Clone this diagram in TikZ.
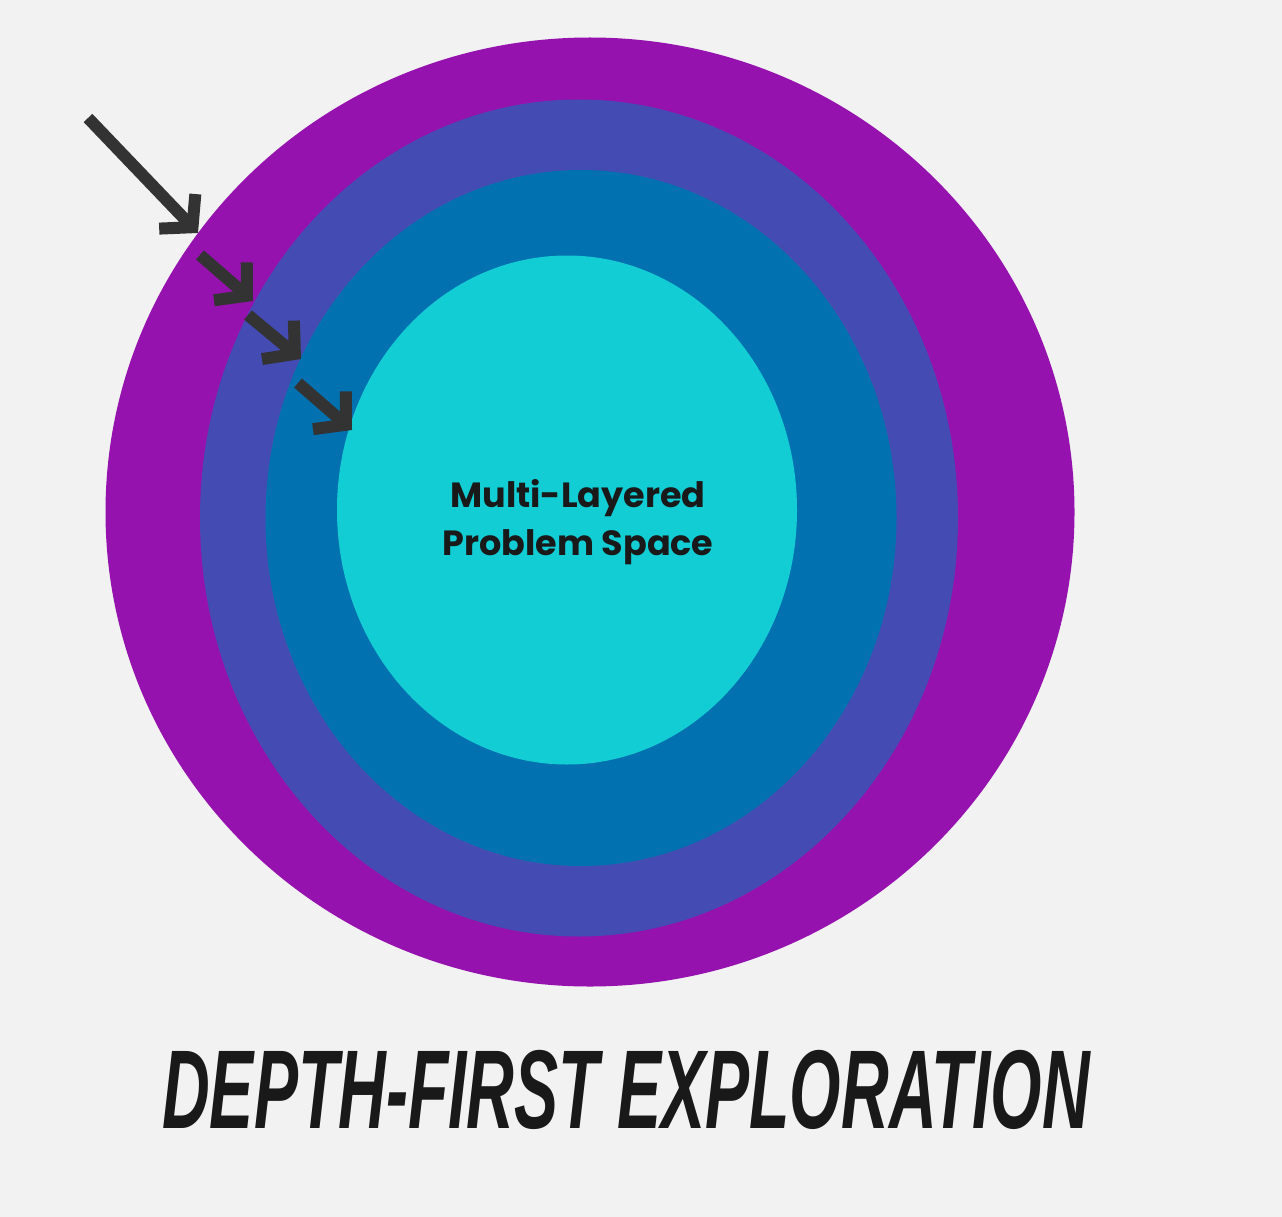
\documentclass[tikz,border=0pt]{standalone}
\usepackage{fontspec}
\usepackage{tikz}
\usetikzlibrary{shapes.geometric, arrows.meta, positioning}
\newfontfamily\layerfont{Poppins}
\newfontfamily\titlefont{Liberation Sans}
\definecolor{bgray}{RGB}{242,242,242}
\definecolor{outerpurple}{RGB}{150,18,174}
\definecolor{midindigo}{RGB}{68,76,179}
\definecolor{innerblue}{RGB}{1,114,175}
\definecolor{corecyan}{RGB}{19,205,213}
\definecolor{arrowgray}{RGB}{51,51,51}
\tikzstyle{layer}=[ellipse, inner sep=0pt, draw=none]
\tikzstyle{dive}=[-{Straight Barb[length=22pt, width=50pt]}, line width=12pt,
  color=arrowgray, line join=miter]

\begin{document}
\begin{tikzpicture}[x=1pt, y=-1pt]
  \useasboundingbox[fill=bgray] (0,0) rectangle (1282,1217);
  % the nested layers
  \node[layer, fill=outerpurple, minimum width=969pt, minimum height=949pt] (outer) at (590,512) {};
  \node[layer, fill=midindigo, minimum width=758pt, minimum height=837pt] (mid) at (579,518) {};
  \node[layer, fill=innerblue, minimum width=631pt, minimum height=696pt] (inner) at (581,518) {};
  \node[layer, fill=corecyan, minimum width=460pt, minimum height=509pt] (core) at (567,510) {};
  \node[font=\layerfont\bfseries\fontsize{35}{48}\selectfont, align=center, text=black!90]
    (label) at (578,522) {Multi-Layered\\Problem Space};
  % arrows going one layer deeper each time
  \coordinate (s1) at (88,118);  \coordinate (t1) at (198,233);
  \coordinate (s2) at (200,255); \coordinate (t2) at (253,301);
  \coordinate (s3) at (248,315); \coordinate (t3) at (301,359);
  \coordinate (s4) at (298,383); \coordinate (t4) at (352,430);
  \draw[dive] (s1) -- (t1);
  \draw[dive] (s2) -- (t2);
  \draw[dive] (s3) -- (t3);
  \draw[dive] (s4) -- (t4);
  \node[font=\titlefont\bfseries\itshape\fontsize{112}{112}\selectfont, xscale=0.59,
    text=black!90] (title) at (626,1090) {DEPTH-FIRST EXPLORATION};
\end{tikzpicture}
\end{document}
